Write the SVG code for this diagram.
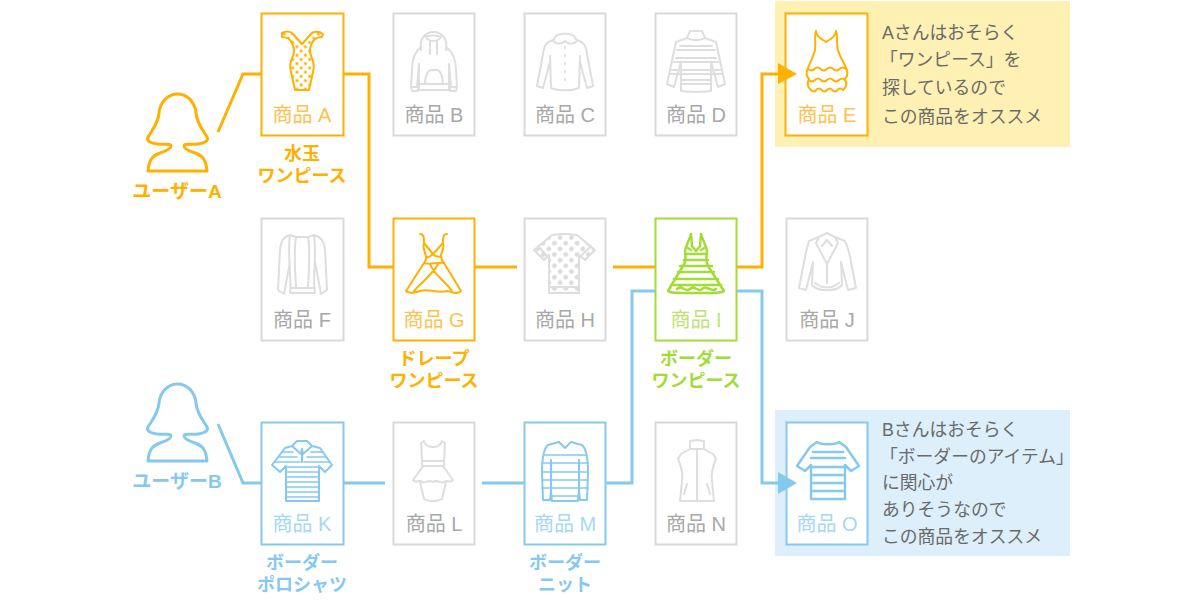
<svg xmlns="http://www.w3.org/2000/svg" width="1200" height="601" viewBox="0 0 1200 601">
<style>
text{font-family:"Liberation Sans","Noto Sans CJK JP",sans-serif}
.box{fill:#fff;stroke-width:2}
.ic{fill:none;stroke-width:2;stroke-linejoin:round;stroke-linecap:round}
.lb{font-size:20px;text-anchor:middle}
.cap{font-size:18px;font-weight:700;text-anchor:middle}
.user{font-size:19px;font-weight:700;text-anchor:middle}
.msg{font-size:17.800px;fill:#6a6a6a}
.con{fill:none;stroke-width:3;stroke-linejoin:miter}
.gy .box{stroke:#d9d9d9}.gy .ic{stroke:#dedede}.gy .lb{fill:#a8a8a8}
.or .box,.or .ic,.orl{stroke:#ffb000}.or .lb{fill:#fdc24f}.orf{fill:#ffb000}
.gr .box,.gr .ic{stroke:#a2dc37}.gr .lb{fill:#bce573}.grf{fill:#a2dc37}
.bl .box,.bl .ic,.bll{stroke:#85c9ee}.bl .lb{fill:#a6d8f3}.blf{fill:#85c9ee}
</style>
<defs>
<pattern id="dotsO" width="6" height="6" patternUnits="userSpaceOnUse" patternTransform="rotate(45)"><circle cx="3" cy="3" r="1.6" fill="#ffb000"/></pattern>
<pattern id="dotsG" width="8" height="8" patternUnits="userSpaceOnUse" patternTransform="rotate(45)"><circle cx="4" cy="4" r="2.400" fill="#dcdcdc"/></pattern>
<path id="person" d="M148 171C149 160 152 156 160 153C166 151 171 149 171 146C171 143 166 145 157 144C151 143.500 146 141 148 137C152 130 158 124 159 113C160 102 168 94 177.500 94C187 94 195 102 196 113C197 124 203 130 207 137C209 141 204 143.500 198 144C189 145 184 143 184 146C184 149 189 151 195 153C203 156 206 160 207 171Z"/>
</defs>

<rect id="panelA" x="775" y="1" width="295" height="146" fill="#fff0b3"/>
<rect id="panelB" x="775" y="410" width="295" height="146" fill="#dcefFb"/>

<g id="userA" class="or"><use href="#person" class="ic" style="stroke-width:3"/><text class="user orf" x="177" y="198">ユーザーA</text></g>
<g id="userB" class="bl"><use href="#person" y="290" class="ic" style="stroke-width:3"/><text class="user blf" x="177" y="488">ユーザーB</text></g>

<g id="itemA" class="or"><rect class="box" x="261.500" y="13.500" width="82" height="122"/>
<path class="ic" style="fill:url(#dotsO)" d="M282 33C286 31 291 31 293 34L302 44L311 34C313 31 319 31 323 34L322 37C317 37 314 39 312 43C310 48 309 51 311 56C314 62 315 66 313 72L309 90H295L291 72C289 66 290 62 293 56C295 51 294 48 292 43C290 39 287 37 282 37Z"/>
<text class="lb" x="302" y="122">商品 A</text><text class="cap orf" x="302" y="160">水玉</text><text class="cap orf" x="302" y="182">ワンピース</text></g>

<g id="itemB" class="gy"><rect class="box" x="393.500" y="13.500" width="81" height="122"/>
<path class="ic" d="M421 50C419 38 426 32 433.500 32C441 32 448 38 446 50M426 37C428 42 439 42 441 37C439 35 428 35 426 37M430 41V54M437 41V54M421 47C414 52 412 60 412 70L411 87H417L419 64M446 47C453 52 456 60 456 70L457 87H451L449 64M419 64V90H449V64M411 87L412 91H418L418 87M457 87L456 91H450L450 87M425 84C425 76 428 70 431 70H437C440 70 443 76 443 84ZM419 84H449"/>
<text class="lb" x="434" y="122">商品 B</text></g>

<g id="itemC" class="gy"><rect class="box" x="524.500" y="13.500" width="81" height="122"/>
<path class="ic" d="M556 36C559 33 571 33 574 36L577 41C574 44 569 45 565 41C561 45 556 44 553 41ZM553 40C546 42 544 46 543 54L537 86L543 88L550 62M577 40C584 42 586 46 587 54L593 86L587 88L580 62M550 56L551 88C558 91 572 91 579 88L580 56"/>
<path class="ic" stroke-dasharray="1 7" d="M565 47V86"/>
<text class="lb" x="565" y="122">商品 C</text></g>

<g id="itemD" class="gy"><rect class="box" x="655.500" y="13.500" width="81" height="122"/>
<path class="ic" d="M690 31H702L705 38L716 42L725 84L718 87L711 62V91C703 92 689 92 681 91V62L674 87L667 84L676 42L687 38ZM687 38C692 41 700 41 705 38M680 46H712M677 50H715M676 58H716M674 62H718M672 70H720M671 74H721M681 80H711M681 84H711"/>
<text class="lb" x="696" y="122">商品 D</text></g>

<g id="itemE" class="or"><rect class="box" x="785.500" y="13.500" width="82" height="122"/>
<path class="ic" d="M816 31C816 36 820 38 826 42C832 38 836 36 836 31C838 36 836 42 838 50C840 58 844 62 846 68M816 31C814 36 816 42 815 50C813 58 810 62 808 68"/>
<path class="ic" d="M808 68C806 72 806 76 809 79M846 68C848 72 848 76 845 79M809 79C807 83 807 87 811 90M845 79C847 83 847 87 843 90"/>
<path class="ic" d="M808 69q3.200 3 6.300 0t6.300 0t6.300 0t6.300 0t6.300 0t6.300 0M809 80q3 3 6 0t6 0t6 0t6 0t6 0t6 0M811 90q2.700 3 5.300 0t5.300 0t5.300 0t5.300 0t5.300 0t5.300 0"/>
<text class="lb" x="827" y="122">商品 E</text></g>

<g id="itemF" class="gy"><rect class="box" x="261.500" y="218.500" width="82" height="122"/>
<path class="ic" d="M290 235C283 237 281 241 280 250L278 290L284 294L290 262M314 235C321 237 324 241 325 250L327 290L321 294L315 262M290 235L296 237H308L314 235M290 235C287 255 292 280 290 293H315C312 280 317 255 314 235M296 237C293 255 296 280 296 288M308 237C311 255 308 280 308 288M290 288H315"/>
<text class="lb" x="302" y="327">商品 F</text></g>

<g id="itemG" class="or"><rect class="box" x="393.500" y="218.500" width="81" height="122"/>
<path class="ic" d="M420 234C424 234 424 238 424 243L433 254L443 243C443 238 443 234 447 234"/>
<path class="ic" d="M424 243C422 249 426 252 426 258C426 261 425 262 424 263L406 291C410 295 416 292 420 291C428 288 438 294 447 291C452 292 458 295 461 291L444 263C441 260 441 258 441 256C441 252 445 248 443 243M426 258C429 257 431 256 433 254C436 257 438 258 441 256M424 263C430 265 438 262 444 263M430 264C434 275 446 282 452 291M438 264C434 273 420 284 414 291"/>
<text class="lb" x="434" y="327">商品 G</text><text class="cap orf" x="434" y="365">ドレープ</text><text class="cap orf" x="434" y="387">ワンピース</text></g>

<g id="itemH" class="gy"><rect class="box" x="524.500" y="218.500" width="81" height="122"/>
<path class="ic" style="fill:url(#dotsG)" d="M552 235L560 234H568L577 235L595 250L585 260L579 255V293H549V255L544 260L534 250Z"/>
<path class="ic" d="M549 287H579M538 246L547 256M591 246L581 256"/>
<text class="lb" x="565" y="327">商品 H</text></g>

<g id="itemI" class="gr"><rect class="box" x="655.500" y="218.500" width="81" height="122"/>
<path class="ic" style="stroke-width:2.500" d="M691 234C689 241 685 247 685 252C686 258 686 262 683 266L668 291C672 294 677 292 681 293H711C716 292 720 294 724 291L708 266C706 262 706 258 707 252C707 247 703 241 701 234L700 246L696 251L692 246ZM686 247L691 250M706 247L701 250M685 254H707M684 260H708M680 266H712M678 272H714M674 279H718M671 285H721M677 289C682 284 685 293 690 289C694 284 698 293 702 289C706 284 711 293 716 289"/>
<text class="lb" x="696" y="327">商品 I</text><text class="cap grf" x="696" y="365">ボーダー</text><text class="cap grf" x="696" y="387">ワンピース</text></g>

<g id="itemJ" class="gy"><rect class="box" x="786.500" y="218.500" width="81" height="122"/>
<path class="ic" d="M819 237L827 233L835 237L845 241C848 248 850 255 851 262L856 288L848 290L841 262L842 285C836 292 818 292 812 285L813 262L806 290L799 288L804 262C805 255 807 248 809 241ZM819 237L816 243L827 264L838 243L835 237M827 240L822 246M827 240L832 246M827 264V283M815 283C822 289 832 289 839 283"/>
<text class="lb" x="827" y="327">商品 J</text></g>

<g id="itemK" class="bl"><rect class="box" x="261.500" y="422.500" width="82" height="122"/>
<path class="ic" d="M292 446L285 448L272 465L280 472L286 466V501H319V466L325 472L332 465L320 448L312 446M297 441H307L312 446L303 454L302 449L301 454L292 446ZM302 450V462"/>
<path class="ic" style="stroke-width:1.600" d="M282 452H293M311 452H323M279 457H297M307 457H326M275 462H300M304 462H329M286 467H319M286 472H319M286 477H319M286 482H319M286 487H319M286 492H319M286 497H319"/>
<text class="lb" x="302" y="531">商品 K</text><text class="cap blf" x="302" y="569">ボーダー</text><text class="cap blf" x="302" y="591">ポロシャツ</text></g>

<g id="itemL" class="gy"><rect class="box" x="393.500" y="422.500" width="81" height="122"/>
<path class="ic" d="M424 441C425 445 429 447 433 447C437 447 441 445 442 441L445 443C444 449 445 454 444 461H422C421 454 422 449 421 443ZM422 461H444V466H422ZM423 466C419 472 416 476 413 480C416 484 419 479 422 482C425 484 428 479 433 482C438 479 441 484 444 482C447 479 450 484 453 480C450 476 447 472 443 466M420 482L424 499C429 502 437 502 442 499L446 482"/>
<text class="lb" x="434" y="531">商品 L</text></g>

<g id="itemM" class="bl"><rect class="box" x="524.500" y="422.500" width="81" height="122"/>
<path class="ic" d="M551 491V460M551 491L552 501H578L579 491V460M559 442L548 445C543 449 542 460 542 473L543 500H550L551 491M579 491L580 500H587L588 473C588 460 587 449 582 445L571 442L565 448L559 442"/>
<path class="ic" style="stroke-width:1.600" d="M544 455H586M542 463H588M542 472H588M542 480H588M542 488H588M552 496H578"/>
<text class="lb" x="565" y="531">商品 M</text><text class="cap blf" x="565" y="569">ボーダー</text><text class="cap blf" x="565" y="591">ニット</text></g>

<g id="itemN" class="gy"><rect class="box" x="655.500" y="422.500" width="81" height="122"/>
<path class="ic" d="M690 441L697 440L704 441V449L713 454L716 459C712 468 711 474 712 481L714 501H680L682 481C683 474 682 468 678 459L681 454L690 449ZM690 449H704M697 449V501M687 484L684 494M707 484L710 494"/>
<text class="lb" x="696" y="531">商品 N</text></g>

<g id="itemO" class="bl"><rect class="box" x="786.500" y="422.500" width="81" height="122"/>
<path class="ic" style="stroke-width:2.500" d="M817 442C821 445 835 445 839 442L846 447L859 466L851 471L845 465V499H811V465L805 471L797 466L810 447ZM811 458H845M811 467H845M811 475H845M811 483H845M811 491H845M813 452H843"/>
<text class="lb" x="827" y="531">商品 O</text></g>

<g id="connectors">
<path class="con orl" d="M218 132L243 74H261M344 74H369V267H393M475 267H517M613 267H655M737 267H762V74H782"/>
<path class="con bll" d="M218 424L243 483H261M344 483H385M482 483H524M606 483H632V291H655M737 291H762V483H782"/>
<polygon class="orf" points="778,63 797,74 778,84"/>
<polygon class="blf" points="778,472 797,483 778,494"/>
</g>

<g id="msgA">
<text class="msg" x="882" y="39">Aさんはおそらく</text>
<text class="msg" x="880" y="66">「ワンピース」を</text>
<text class="msg" x="882" y="94">探しているので</text>
<text class="msg" x="882" y="123">この商品をオススメ</text>
</g>
<g id="msgB">
<text class="msg" x="882" y="436">Bさんはおそらく</text>
<text class="msg" x="880" y="463">「ボーダーのアイテム」</text>
<text class="msg" x="882" y="489">に関心が</text>
<text class="msg" x="882" y="516">ありそうなので</text>
<text class="msg" x="882" y="543">この商品をオススメ</text>
</g>
</svg>
